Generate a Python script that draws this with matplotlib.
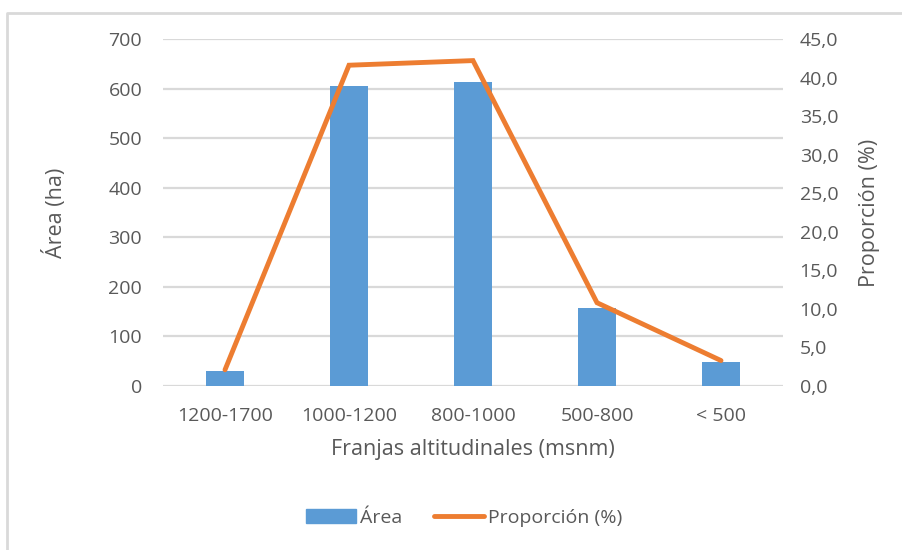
import matplotlib
matplotlib.use("Agg")
import matplotlib.pyplot as plt
from matplotlib.lines import Line2D
from matplotlib.ticker import FuncFormatter

# Data
categories = ["1200-1700", "1000-1200", "800-1000", "500-800", "< 500"]
area_ha = [31, 605, 613, 157, 48]
proportion_pct = [2.1, 41.6, 42.2, 10.8, 3.3]

area_ticks = [0, 100, 200, 300, 400, 500, 600, 700]
prop_ticks = [0, 5, 10, 15, 20, 25, 30, 35, 40, 45]

plt.rcParams["font.family"] = ["Open Sans", "DejaVu Sans"]
TEXT = "#595959"
GRID = "#d9d9d9"
BLUE = "#5b9bd5"
ORANGE = "#ed7d31"

fig = plt.figure(figsize=(9.03, 5.5), dpi=100)
ax = fig.add_axes([163 / 903, 1 - 386 / 550, 620 / 903, 347 / 550])

x = list(range(len(categories)))
ax.bar(x, area_ha, width=0.31, color=BLUE, zorder=2, label="Área")
ax.set_xlim(-0.5, len(categories) - 0.5)
ax.set_ylim(0, 700)
ax.set_yticks(area_ticks)
ax.set_xticks(x)
ax.set_xticklabels(categories)
ax.grid(axis="y", color=GRID, linewidth=1.6, zorder=0)
ax.set_axisbelow(True)
for s in ax.spines.values():
    s.set_visible(False)
ax.tick_params(axis="both", length=0, colors=TEXT, labelsize=14)
ax.tick_params(axis="x", pad=15)
ax.tick_params(axis="y", pad=15)
ax.set_ylabel("Área (ha)", color=TEXT, fontsize=15.5, labelpad=30)
ax.set_xlabel("Franjas altitudinales (msnm)", color=TEXT, fontsize=15.5, labelpad=10)

ax2 = ax.twinx()
ax2.plot(x, proportion_pct, color=ORANGE, linewidth=3.5, solid_capstyle="round",
         solid_joinstyle="miter", zorder=3, label="Proporción (%)")
ax2.set_ylim(0, 45)
ax2.set_yticks(prop_ticks)
ax2.yaxis.set_major_formatter(FuncFormatter(lambda v, _: f"{v:.1f}".replace(".", ",")))
for s in ax2.spines.values():
    s.set_visible(False)
ax2.tick_params(axis="y", length=0, colors=TEXT, labelsize=14, pad=12)
ax2.set_ylabel("Proporción (%)", color=TEXT, fontsize=15.5, labelpad=15)

handles = [
    plt.Rectangle((0, 0), 1, 1, color=BLUE),
    Line2D([0], [0], color=ORANGE, linewidth=3.5, solid_capstyle="round"),
]
fig.legend(handles, ["Área", "Proporción (%)"], loc="center",
           bbox_to_anchor=(464 / 903, 1 - 518 / 550), ncol=2, frameon=False,
           fontsize=14, labelcolor=TEXT, handlelength=2.6, handletextpad=0.2,
           columnspacing=1.6)

# Chart frame (left and top edges)
fig.add_artist(Line2D([7 / 903, 7 / 903, 1.0], [0.0, 1 - 12.5 / 550, 1 - 12.5 / 550],
                      transform=fig.transFigure, color=GRID, linewidth=2))

fig.savefig("out.png", dpi=100, facecolor="white")
